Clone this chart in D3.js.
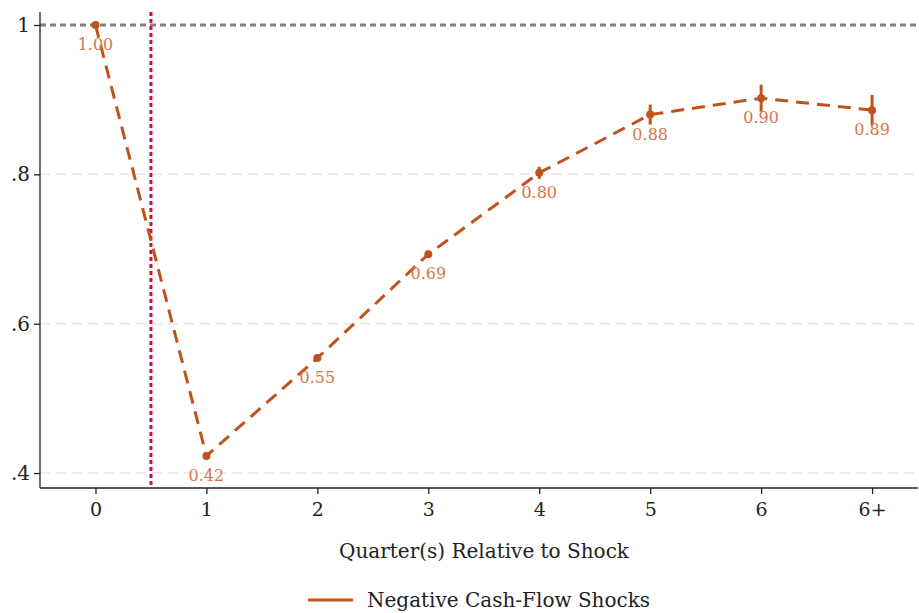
<!DOCTYPE html>
<html><head><meta charset="utf-8">
<script src="https://cdn.jsdelivr.net/npm/d3@7"></script>
<style>body{margin:0;background:#fff}svg{display:block}text{font-family:"DejaVu Serif",serif}</style>
</head><body><svg id="c" width="919" height="613"></svg>
<script>
const categories = ["0","1","2","3","4","5","6","6+"];
const values = [1.00, 0.423, 0.554, 0.693, 0.802, 0.880, 0.902, 0.886];
const ciHalf = [0, 0.003, 0.003, 0.005, 0.008, 0.0134, 0.018, 0.0205];
const valueLabels = ["1.00","0.42","0.55","0.69","0.80","0.88","0.90","0.89"];
const yTicks = [0.4, 0.6, 0.8, 1.0];
const yTickLabels = [".4", ".6", ".8", "1"];
const seriesName = "Negative Cash-Flow Shocks";
const shockPos = 0.5;

(function () {
const svg = d3.select("#c");
const FF = '"DejaVu Serif",serif';
const pL = 40, pR = 918, pT = 12, pB = 488;
const x = d3.scaleLinear().domain([-0.5, 7.414]).range([pL, pR]);
const y = d3.scaleLinear().domain([0.38, 1.0174]).range([pB, pT]);
const lineCol = "#c0531b", labCol = "#d8744a";

// gridlines
svg.append("g").selectAll("line").data(yTicks.filter(d => d < 1)).join("line")
  .attr("x1", pL).attr("x2", pR).attr("y1", d => y(d)).attr("y2", d => y(d))
  .attr("stroke", "#e6e6e6").attr("stroke-width", 1.5).attr("stroke-dasharray", "10,6");
svg.append("line").attr("x1", pL).attr("x2", pR).attr("y1", y(1)).attr("y2", y(1))
  .attr("stroke", "#808080").attr("stroke-width", 3).attr("stroke-dasharray", "6,4");

// axes
const yAxis = d3.axisLeft(y).tickValues(yTicks).tickFormat((d, i) => yTickLabels[i]).tickSize(6).tickPadding(4);
const gy = svg.append("g").attr("transform", `translate(${pL},0)`).call(yAxis);
gy.attr("font-family", FF);
gy.select(".domain").attr("d", `M0,${pT}V${pB}`).attr("stroke", "#222").attr("stroke-width", 1.3);
gy.selectAll(".tick line").attr("stroke", "#222").attr("stroke-width", 1.3);
gy.selectAll(".tick text").attr("font-size", 20).attr("fill", "#222");

const xAxis = d3.axisBottom(x).tickValues(d3.range(categories.length)).tickFormat(i => categories[i]).tickSize(6).tickPadding(9);
const gx = svg.append("g").attr("transform", `translate(0,${pB})`).call(xAxis);
gx.attr("font-family", FF);
gx.select(".domain").attr("d", `M${pL},0H${pR}`).attr("stroke", "#222").attr("stroke-width", 1.3);
gx.selectAll(".tick line").attr("stroke", "#222").attr("stroke-width", 1.3);
gx.selectAll(".tick text").attr("font-size", 19).attr("fill", "#222");

// shock line
svg.append("line").attr("x1", x(shockPos)).attr("x2", x(shockPos)).attr("y1", pT).attr("y2", pB)
  .attr("stroke", "#d0103a").attr("stroke-width", 3).attr("stroke-dasharray", "4,3");

// error bars
svg.append("g").selectAll("line").data(values).join("line")
  .attr("x1", (d, i) => x(i)).attr("x2", (d, i) => x(i))
  .attr("y1", (d, i) => y(d - ciHalf[i])).attr("y2", (d, i) => y(d + ciHalf[i]))
  .attr("stroke", lineCol).attr("stroke-width", 3);

// line
const line = d3.line().x((d, i) => x(i)).y(d => y(d));
svg.append("path").datum(values).attr("d", line).attr("fill", "none")
  .attr("stroke", lineCol).attr("stroke-width", 3).attr("stroke-dasharray", "13,8");

svg.append("g").selectAll("circle").data(values).join("circle")
  .attr("cx", (d, i) => x(i)).attr("cy", d => y(d)).attr("r", 4).attr("fill", lineCol);

svg.append("g").attr("font-family", FF).selectAll("text").data(values).join("text")
  .attr("x", (d, i) => x(i)).attr("y", d => y(d) + 25).attr("text-anchor", "middle")
  .attr("font-size", 16).attr("fill", labCol).text((d, i) => valueLabels[i]);

// axis title
svg.append("text").attr("font-family", FF).attr("x", 484).attr("y", 558).attr("text-anchor", "middle")
  .attr("font-size", 20).attr("fill", "#222").text("Quarter(s) Relative to Shock");

// legend
svg.append("line").attr("x1", 308).attr("x2", 353).attr("y1", 600).attr("y2", 600)
  .attr("stroke", lineCol).attr("stroke-width", 3);
svg.append("text").attr("font-family", FF).attr("x", 367).attr("y", 607).attr("font-size", 20).attr("fill", "#222").text(seriesName);
})();
</script></body></html>
